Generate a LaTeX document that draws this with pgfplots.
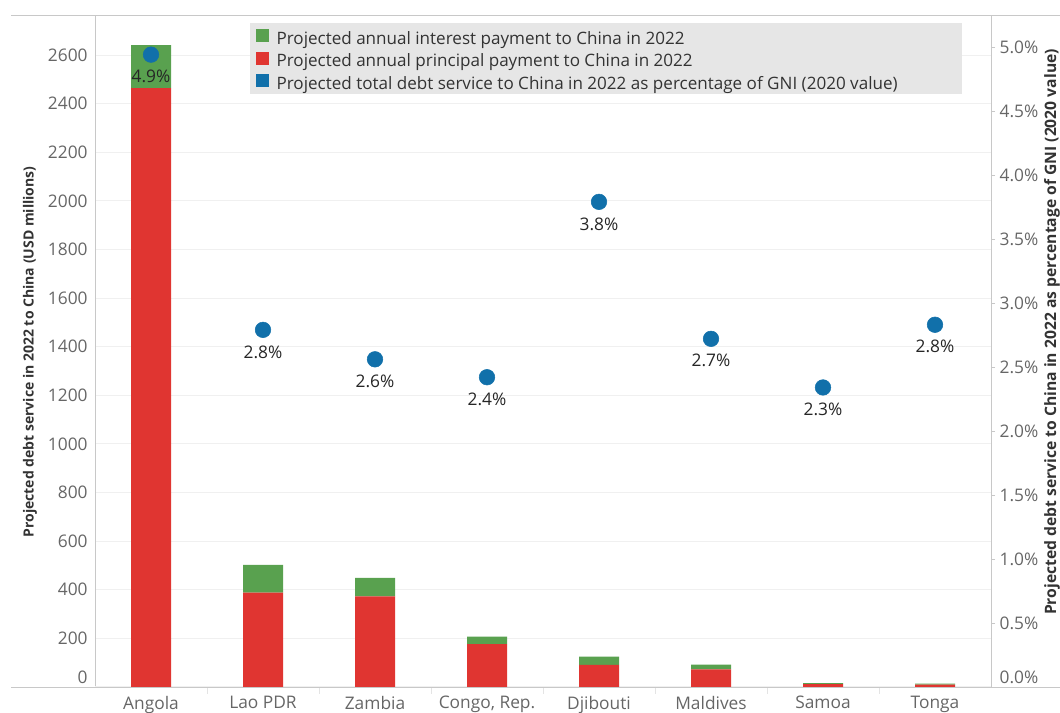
\documentclass[border=0pt]{standalone}
\usepackage{fontspec}
\setmainfont{Open Sans}
\usepackage{pgfplots}
\usepackage{pgfplotstable}
\pgfplotsset{compat=1.18}
\definecolor{cgreen}{HTML}{59A14F}
\definecolor{cred}{HTML}{E03531}
\definecolor{cblue}{HTML}{1170AA}
\definecolor{gridc}{HTML}{F0F0F0}
\definecolor{axc}{HTML}{C8C8C8}
\definecolor{tickc}{HTML}{666666}
\definecolor{labc}{HTML}{333333}
\definecolor{legbg}{HTML}{E6E6E6}

\pgfplotstableread{
x principal interest
0 2464 177
1 388 114
2 373 76
3 176 31
4 91 34
5 73 19
6 12 4
7 10 4
}\debt

\pgfplotstableread{
x pct lab
0 4.94 4.9
1 2.79 2.8
2 2.56 2.6
3 2.42 2.4
4 3.79 3.8
5 2.72 2.7
6 2.34 2.3
7 2.83 2.8
}\gni

\begin{document}
\begin{tikzpicture}
\begin{axis}[
  at={(71.25pt,19.5pt)}, anchor=south west,
  scale only axis, width=672pt, height=504pt,
  xmin=-0.5, xmax=7.5, ymin=0, ymax=2765,
  axis y line*=left, axis x line*=bottom,
  axis line style={draw=axc, line width=0.75pt, -},
  xtick={0,...,7},
  xticklabels={Angola,Lao PDR,Zambia,{Congo, Rep.},Djibouti,Maldives,Samoa,Tonga},
  minor xtick={0.5,1.5,...,6.5},
  ytick={200,400,...,2600},
  extra y ticks={0},
  extra y tick style={yticklabel style={yshift=7pt}},
  major tick length=0pt,
  minor tick length=5pt,
  tick align=outside,
  minor tick style={draw=gridc!70!axc},
  ymajorgrids, grid style={draw=gridc, line width=0.75pt},
  tick label style={font=\fontsize{13}{15}\selectfont, text=tickc},
  yticklabel style={xshift=-2pt},
  xticklabel style={yshift=-3.5pt},
  /pgf/number format/assume math mode=true,
  /pgf/number format/1000 sep={},
  ybar stacked, bar width=30pt,
  legend style={at={(0.1797,0.979)}, anchor=north west, fill=none, draw=none,
    inner sep=0pt, outer sep=0pt, row sep=2.5pt,
    font=\fontsize{12.8}{14}\selectfont, text=labc,
    nodes={inner sep=0pt, text height=9.5pt, text depth=3pt},
    /tikz/every odd column/.append style={column sep=6pt}},
  legend cell align=left,
]
\fill[legbg] (rel axis cs:0.173,0.9877) rectangle (rel axis cs:0.9676,0.8819);
\addplot[fill=cred, draw=none, forget plot] table[x=x,y=principal]{\debt};
\addplot[fill=cgreen, draw=none, forget plot] table[x=x,y=interest]{\debt};
\addlegendimage{legend image code/.code={\fill[cgreen] (0pt,-1pt) rectangle (9pt,8pt);}}
\addlegendentry{Projected annual interest payment to China in 2022}
\addlegendimage{legend image code/.code={\fill[cred] (0pt,-1pt) rectangle (9pt,8pt);}}
\addlegendentry{Projected annual principal payment to China in 2022}
\addlegendimage{legend image code/.code={\fill[cblue] (0pt,-1pt) rectangle (9pt,8pt);}}
\addlegendentry{Projected total debt service to China in 2022 as percentage of GNI (2020 value)}
\end{axis}
\begin{axis}[
  at={(71.25pt,19.5pt)}, anchor=south west,
  scale only axis, width=672pt, height=504pt,
  xmin=-0.5, xmax=7.5, ymin=0, ymax=5.25,
  axis y line*=right, axis x line=none,
  axis line style={draw=axc, line width=0.75pt, -},
  ytick={0.5,1,...,5},
  extra y ticks={0},
  extra y tick style={yticklabel style={yshift=7pt}},
  yticklabel={\pgfmathprintnumber[fixed,fixed zerofill,precision=1]{\tick}\%},
  major tick length=3pt, tick align=outside, tick style={draw=axc},
  tick label style={font=\fontsize{13}{15}\selectfont, text=tickc},
  /pgf/number format/assume math mode=true,
]
\addplot[color=cblue, only marks, mark=*, mark size=5.85pt, mark options={draw=cblue, fill=cblue},
  nodes near coords={\pgfplotspointmeta\%}, point meta=explicit symbolic,
  every node near coord/.append style={anchor=center, yshift=-16.5pt,
    font=\fontsize{13}{15}\selectfont, text=black!85}]
  table[x=x, y=pct, meta=lab]{\gni};
\end{axis}
% frame lines
\draw[axc, line width=0.75pt] ({11*0.75pt},{(713-15.7)*0.75pt}) -- ({1060*0.75pt},{(713-15.7)*0.75pt});
\draw[axc, line width=0.75pt] ({11*0.75pt},{(713-687.7)*0.75pt}) -- ({1060*0.75pt},{(713-687.7)*0.75pt});
% axis titles
\node[rotate=90, font=\bfseries\fontsize{10.5}{12}\selectfont, text=labc] at ({30*0.75pt},{(713-352)*0.75pt})
  {Projected debt service in 2022 to China (USD millions)};
\node[rotate=90, font=\bfseries\fontsize{11.75}{13}\selectfont, text=labc] at ({1052*0.75pt},{(713-332)*0.75pt})
  {Projected debt service to China in 2022 as percentage of GNI (2020 value)};
\pgfresetboundingbox
\useasboundingbox (0,0) rectangle (795pt,534.75pt);
\end{tikzpicture}
\end{document}
